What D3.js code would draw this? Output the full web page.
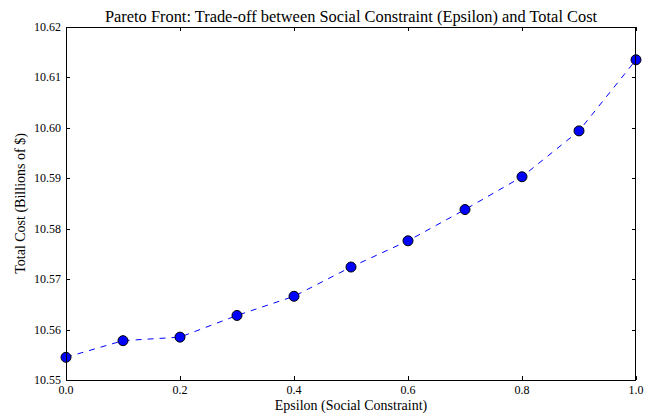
<!DOCTYPE html>
<html><head><meta charset="utf-8">
<script src="https://cdn.jsdelivr.net/npm/d3@7"></script>
<style>body{margin:0;background:#fff}</style>
</head><body>
<svg id="chart" width="659" height="415"></svg>
<script>
const epsilon = [0.0, 0.1, 0.2, 0.3, 0.4, 0.5, 0.6, 0.7, 0.8, 0.9, 1.0];
const totalCost = [10.5545, 10.5578, 10.5585, 10.5628, 10.5666, 10.5724, 10.5776, 10.5838, 10.5903, 10.5994, 10.6135];
const xTicks = [0.0, 0.2, 0.4, 0.6, 0.8, 1.0];
const yTicks = [10.55, 10.56, 10.57, 10.58, 10.59, 10.60, 10.61, 10.62];
const title = "Pareto Front: Trade-off between Social Constraint (Epsilon) and Total Cost";
const xLabel = "Epsilon (Social Constraint)";
const yLabel = "Total Cost (Billions of $)";

const svg = d3.select("#chart");
const L = 66, R = 636, T = 27, B = 380;
const font = "'Liberation Serif', 'Times New Roman', serif";
const x = d3.scaleLinear().domain([0, 1]).range([L, R]);
const y = d3.scaleLinear().domain([10.55, 10.62]).range([B, T]);

// ticks (inward, all four sides)
const tl = 4;
const g = svg.append("g").attr("stroke", "#000").attr("stroke-width", 1);
xTicks.forEach(t => {
  const px = Math.round(x(t)) + 0.5;
  g.append("line").attr("x1", px).attr("x2", px).attr("y1", B).attr("y2", B - tl);
  g.append("line").attr("x1", px).attr("x2", px).attr("y1", T).attr("y2", T + tl);
});
yTicks.forEach(t => {
  const py = Math.round(y(t)) + 0.5;
  g.append("line").attr("x1", L).attr("x2", L + tl).attr("y1", py).attr("y2", py);
  g.append("line").attr("x1", R).attr("x2", R - tl).attr("y1", py).attr("y2", py);
});

// tick labels
svg.append("g").selectAll("text").data(xTicks).join("text")
  .attr("x", d => x(d)).attr("y", B + 14)
  .attr("text-anchor", "middle").attr("font-family", font).attr("font-size", 12)
  .text(d => d.toFixed(1));
svg.append("g").selectAll("text").data(yTicks).join("text")
  .attr("x", L - 5).attr("y", d => y(d) + 4)
  .attr("text-anchor", "end").attr("font-family", font).attr("font-size", 12)
  .text(d => d.toFixed(2));

// line
const line = d3.line().x((d, i) => x(epsilon[i])).y(d => y(d));
svg.append("path").datum(totalCost).attr("d", line)
  .attr("fill", "none").attr("stroke", "#0000ff").attr("stroke-width", 1)
  .attr("stroke-dasharray", "6,6");

// markers
svg.append("g").selectAll("circle").data(totalCost).join("circle")
  .attr("cx", (d, i) => x(epsilon[i])).attr("cy", d => y(d)).attr("r", 5)
  .attr("fill", "#0000ff").attr("stroke", "#000").attr("stroke-width", 1);

// frame
svg.append("rect").attr("x", L + 0.5).attr("y", T + 0.5).attr("width", R - L - 1).attr("height", B - T)
  .attr("fill", "none").attr("stroke", "#000").attr("stroke-width", 1);

// title and labels
svg.append("text").attr("x", (L + R) / 2).attr("y", 22).attr("text-anchor", "middle")
  .attr("font-family", font).attr("font-size", 16.4).text(title);
svg.append("text").attr("x", (L + R) / 2).attr("y", 410).attr("text-anchor", "middle")
  .attr("font-family", font).attr("font-size", 14).text(xLabel);
svg.append("text").attr("transform", `translate(25, ${(T + B) / 2}) rotate(-90)`).attr("text-anchor", "middle")
  .attr("font-family", font).attr("font-size", 14).text(yLabel);
</script>
</body></html>
